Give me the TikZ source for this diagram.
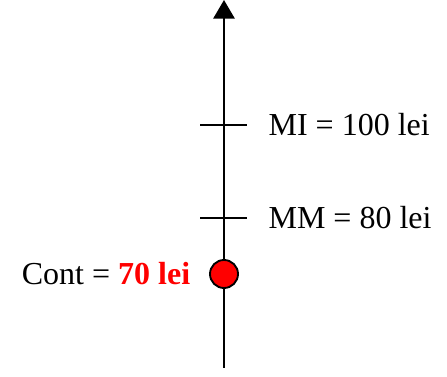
\documentclass[tikz,border=0pt]{standalone}
\usepackage{fontspec}
\setmainfont{Liberation Serif}
\usepackage{xcolor}
\usepackage{tikz}
\usetikzlibrary{positioning,arrows.meta}
\definecolor{contred}{HTML}{FF0000}

\begin{document}
\begin{tikzpicture}[
  x=0.75pt,y=-0.75pt,
  font=\fontsize{24}{28}\selectfont,
  axis/.style={line width=1.5pt,-{Triangle[length=14pt,width=16pt]}},
  tickline/.style={line width=1.1pt},
  lbl/.style={inner sep=0pt},
  dot/.style={circle,draw,line width=1.4pt,fill=contred,minimum size=21pt,inner sep=0pt}
]
\useasboundingbox (0,0) rectangle (447,377);
\coordinate (bot) at (224,368);
\coordinate (top) at (224,0);
\draw[axis] (bot) -- (top);

% levels on the axis
\coordinate (mil) at (200,125);
\coordinate (mir) at (247,125);
\coordinate (mml) at (200,218);
\coordinate (mmr) at (247,218);
\draw[tickline] (mil) -- (mir);
\draw[tickline] (mml) -- (mmr);
\node[dot] (cont) at (224,274) {};

\node[lbl,right=16pt of mir] (mi) {MI = 100 lei};
\node[lbl,right=16pt of mmr] (mm) {MM = 80 lei};
\node[lbl,left=14pt of cont] (contlbl) {Cont = \textcolor{contred}{\textbf{70 lei}}};
\end{tikzpicture}
\end{document}
